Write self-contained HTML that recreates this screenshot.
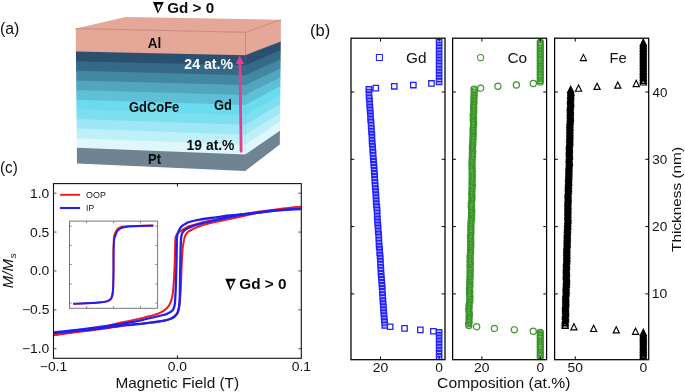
<!DOCTYPE html>
<html><head><meta charset="utf-8"><style>
html,body{margin:0;padding:0;background:#fff;}
svg{display:block;will-change:transform;font-family:"Liberation Sans",sans-serif;}
</style></head><body>
<svg width="685" height="392" viewBox="0 0 685 392">
<rect width="685" height="392" fill="#fff"/>
<polygon points="75.70,28.5 125.7,17.0 281.0,19.7 245.5,32.3" fill="#e5a898"/>
<polygon points="75.70,28.50 245.5,32.30 245.5,56.50 75.93,52.80" fill="#e5a898"/>
<polygon points="245.2,32.30 281.00,19.70 280.78,42.60 245.2,56.50" fill="#e5a898"/>
<polygon points="75.92,51.60 245.5,55.30 245.5,66.43 76.03,62.42" fill="#2b4f6f"/>
<polygon points="245.2,55.30 280.79,41.40 280.69,51.54 245.2,66.43" fill="#2b4f6f"/>
<polygon points="76.02,61.22 245.5,65.23 245.5,76.36 76.12,72.04" fill="#356a87"/>
<polygon points="245.2,65.23 280.71,50.34 280.61,60.48 245.2,76.36" fill="#356a87"/>
<polygon points="76.11,70.84 245.5,75.16 245.5,86.29 76.21,81.66" fill="#4288a2"/>
<polygon points="245.2,75.16 280.62,59.28 280.52,69.42 245.2,86.29" fill="#4288a2"/>
<polygon points="76.20,80.46 245.5,85.09 245.5,96.22 76.30,91.28" fill="#51a5bc"/>
<polygon points="245.2,85.09 280.53,68.22 280.44,78.36 245.2,96.22" fill="#51a5bc"/>
<polygon points="76.29,90.08 245.5,95.02 245.5,106.15 76.40,100.90" fill="#5ec0d6"/>
<polygon points="245.2,95.02 280.45,77.16 280.35,87.30 245.2,106.15" fill="#5ec0d6"/>
<polygon points="76.39,99.70 245.5,104.95 245.5,116.08 76.49,110.52" fill="#6bdcef"/>
<polygon points="245.2,104.95 280.36,86.10 280.26,96.24 245.2,116.08" fill="#6bdcef"/>
<polygon points="76.48,109.32 245.5,114.88 245.5,126.01 76.58,120.14" fill="#7ddeef"/>
<polygon points="245.2,114.88 280.28,95.04 280.18,105.18 245.2,126.01" fill="#7ddeef"/>
<polygon points="76.57,118.94 245.5,124.81 245.5,135.94 76.67,129.76" fill="#9de8f4"/>
<polygon points="245.2,124.81 280.19,103.98 280.09,114.12 245.2,135.94" fill="#9de8f4"/>
<polygon points="76.66,128.56 245.5,134.74 245.5,145.87 76.77,139.38" fill="#bff0f8"/>
<polygon points="245.2,134.74 280.10,112.92 280.01,123.06 245.2,145.87" fill="#bff0f8"/>
<polygon points="76.76,138.18 245.5,144.67 245.5,155.80 76.86,149.00" fill="#ddf7fb"/>
<polygon points="245.2,144.67 280.02,121.86 279.92,132.00 245.2,155.80" fill="#ddf7fb"/>
<polygon points="76.85,147.80 245.5,154.60 245.5,171.00 77.00,163.60" fill="#6f8393"/>
<polygon points="245.2,154.60 279.93,130.80 279.80,144.50 245.2,171.00" fill="#6f8393"/>
<path d="M75.70,28.5 L245.5,32.3 L281.0,19.7 M245.5,32.3 L245.5,55.3" fill="none" stroke="#a06c5e" stroke-width="0.7" opacity="0.8"/>
<path d="M245.5,55.3 L245.5,171.0" fill="none" stroke="#000" stroke-width="0.5" opacity="0.12"/>
<line x1="241.1" y1="151.3" x2="240.0" y2="62" stroke="#e43d93" stroke-width="2.8" stroke-linecap="round"/>
<polygon points="235.7,64.0 244.2,64.0 239.7,55.6" fill="#e43d93"/>
<path d="M153.0,1.9 L163.8,1.9 L157.9,13.6 Z M156.9,4.4 L158.2,10.9 L160.9,4.4 Z" fill="#000" fill-rule="evenodd"/>
<text x="167.29" y="12.80" font-size="15.40" font-weight="bold" font-style="normal" fill="#0a0a0a" textLength="46.85" lengthAdjust="spacingAndGlyphs">Gd &gt; 0</text>
<text x="147.66" y="47.80" font-size="14.20" font-weight="bold" font-style="normal" fill="#0a0a0a" textLength="13.48" lengthAdjust="spacingAndGlyphs">Al</text>
<text x="184.31" y="69.20" font-size="14.00" font-weight="bold" font-style="normal" fill="#ffffff" textLength="48.67" lengthAdjust="spacingAndGlyphs">24 at.%</text>
<text x="128.98" y="111.80" font-size="13.80" font-weight="bold" font-style="normal" fill="#0a0a0a" textLength="50.25" lengthAdjust="spacingAndGlyphs">GdCoFe</text>
<text x="213.88" y="109.60" font-size="13.80" font-weight="bold" font-style="normal" fill="#0a0a0a" textLength="17.97" lengthAdjust="spacingAndGlyphs">Gd</text>
<text x="186.63" y="149.70" font-size="13.80" font-weight="bold" font-style="normal" fill="#0a0a0a" textLength="47.83" lengthAdjust="spacingAndGlyphs">19 at.%</text>
<text x="148.03" y="163.80" font-size="14.10" font-weight="bold" font-style="normal" fill="#0a0a0a" textLength="12.93" lengthAdjust="spacingAndGlyphs">Pt</text>
<text x="-0.09" y="34.20" font-size="16.00" font-weight="normal" font-style="normal" fill="#111" textLength="19.44" lengthAdjust="spacingAndGlyphs">(a)</text>
<text x="309.97" y="35.80" font-size="16.30" font-weight="normal" font-style="normal" fill="#111" textLength="20.22" lengthAdjust="spacingAndGlyphs">(b)</text>
<text x="-0.05" y="172.60" font-size="16.50" font-weight="normal" font-style="normal" fill="#111" textLength="17.78" lengthAdjust="spacingAndGlyphs">(c)</text>
<rect x="53.5" y="183.6" width="247.8" height="174.70000000000002" fill="none" stroke="#111" stroke-width="1.1"/>
<line x1="53.5" y1="193.20" x2="56.5" y2="193.20" stroke="#444" stroke-width="0.9"/>
<line x1="301.3" y1="193.20" x2="298.3" y2="193.20" stroke="#444" stroke-width="0.9"/>
<line x1="53.5" y1="232.07" x2="56.5" y2="232.07" stroke="#444" stroke-width="0.9"/>
<line x1="301.3" y1="232.07" x2="298.3" y2="232.07" stroke="#444" stroke-width="0.9"/>
<line x1="53.5" y1="270.95" x2="56.5" y2="270.95" stroke="#444" stroke-width="0.9"/>
<line x1="301.3" y1="270.95" x2="298.3" y2="270.95" stroke="#444" stroke-width="0.9"/>
<line x1="53.5" y1="309.82" x2="56.5" y2="309.82" stroke="#444" stroke-width="0.9"/>
<line x1="301.3" y1="309.82" x2="298.3" y2="309.82" stroke="#444" stroke-width="0.9"/>
<line x1="53.5" y1="348.70" x2="56.5" y2="348.70" stroke="#444" stroke-width="0.9"/>
<line x1="301.3" y1="348.70" x2="298.3" y2="348.70" stroke="#444" stroke-width="0.9"/>
<line x1="177.40" y1="358.3" x2="177.40" y2="355.3" stroke="#111" stroke-width="1"/>
<line x1="177.40" y1="183.6" x2="177.40" y2="186.6" stroke="#111" stroke-width="1"/>
<text x="30.02" y="197.70" font-size="12.40" font-weight="normal" font-style="normal" fill="#111" textLength="19.31" lengthAdjust="spacingAndGlyphs">1.0</text>
<text x="30.05" y="236.57" font-size="12.40" font-weight="normal" font-style="normal" fill="#111" textLength="19.31" lengthAdjust="spacingAndGlyphs">0.5</text>
<text x="30.02" y="275.45" font-size="12.40" font-weight="normal" font-style="normal" fill="#111" textLength="19.31" lengthAdjust="spacingAndGlyphs">0.0</text>
<text x="21.96" y="314.32" font-size="12.40" font-weight="normal" font-style="normal" fill="#111" textLength="27.42" lengthAdjust="spacingAndGlyphs">−0.5</text>
<text x="21.93" y="353.20" font-size="12.40" font-weight="normal" font-style="normal" fill="#111" textLength="27.42" lengthAdjust="spacingAndGlyphs">−1.0</text>
<text x="39.79" y="371.00" font-size="12.40" font-weight="normal" font-style="normal" fill="#111" textLength="27.42" lengthAdjust="spacingAndGlyphs">−0.1</text>
<text x="167.73" y="371.00" font-size="12.40" font-weight="normal" font-style="normal" fill="#111" textLength="19.31" lengthAdjust="spacingAndGlyphs">0.0</text>
<text x="291.70" y="371.00" font-size="12.40" font-weight="normal" font-style="normal" fill="#111" textLength="19.31" lengthAdjust="spacingAndGlyphs">0.1</text>
<text x="115.43" y="387.70" font-size="14.50" font-weight="normal" font-style="normal" fill="#111" textLength="123.59" lengthAdjust="spacingAndGlyphs">Magnetic Field (T)</text>
<g transform="translate(13.4,287.7) rotate(-90)"><text x="-0.45" y="0.00" font-size="13.80" font-weight="normal" font-style="italic" fill="#111" textLength="29.17" lengthAdjust="spacingAndGlyphs">M/M</text><text x="29.17" y="2.50" font-size="9.50" font-weight="normal" font-style="italic" fill="#111" textLength="5.24" lengthAdjust="spacingAndGlyphs">s</text></g>
<clipPath id="cc"><rect x="54" y="184" width="247" height="174"/></clipPath>
<g clip-path="url(#cc)"><path d="M301.30,206.70 C297.75,207.08 286.88,208.18 280.00,209.00 C273.12,209.82 266.67,210.67 260.00,211.60 C253.33,212.53 245.83,213.58 240.00,214.60 C234.17,215.62 230.00,216.67 225.00,217.70 C220.00,218.73 214.50,219.82 210.00,220.80 C205.50,221.78 201.50,222.68 198.00,223.60 C194.50,224.52 191.33,225.42 189.00,226.30 C186.67,227.18 185.38,228.12 184.00,228.90 C182.62,229.68 181.73,230.28 180.70,231.00 C179.67,231.72 178.58,232.37 177.80,233.20 C177.02,234.03 176.42,234.87 176.00,236.00 C175.58,237.13 175.50,236.00 175.30,240.00 C175.10,244.00 175.02,253.67 174.80,260.00 C174.58,266.33 174.32,272.55 174.00,278.00 C173.68,283.45 173.42,288.75 172.90,292.70 C172.38,296.65 171.87,299.15 170.90,301.70 C169.93,304.25 169.02,306.10 167.10,308.00 C165.18,309.90 163.23,311.50 159.40,313.10 C155.57,314.70 149.83,316.15 144.10,317.60 C138.37,319.05 130.35,320.63 125.00,321.80 C119.65,322.97 116.17,323.63 112.00,324.60 C107.83,325.57 106.17,326.42 100.00,327.60 C93.83,328.78 82.67,330.48 75.00,331.70 C67.33,332.92 57.50,334.37 54.00,334.90" fill="none" stroke="#f01a1a" stroke-width="2.0" stroke-linejoin="round"/>
<path d="M54.00,335.20 C57.50,334.72 67.33,333.28 75.00,332.30 C82.67,331.32 91.67,330.42 100.00,329.30 C108.33,328.18 117.67,326.57 125.00,325.60 C132.33,324.63 137.67,324.30 144.00,323.50 C150.33,322.70 158.50,321.62 163.00,320.80 C167.50,319.98 168.92,319.43 171.00,318.60 C173.08,317.77 174.28,316.98 175.50,315.80 C176.72,314.62 177.62,313.38 178.30,311.50 C178.98,309.62 179.23,307.58 179.60,304.50 C179.97,301.42 180.25,297.08 180.50,293.00 C180.75,288.92 180.88,285.17 181.10,280.00 C181.32,274.83 181.53,267.33 181.80,262.00 C182.07,256.67 182.33,251.67 182.70,248.00 C183.07,244.33 183.55,242.13 184.00,240.00 C184.45,237.87 184.72,236.57 185.40,235.20 C186.08,233.83 186.93,232.78 188.10,231.80 C189.27,230.82 190.75,230.12 192.40,229.30 C194.05,228.48 196.12,227.63 198.00,226.90 C199.88,226.17 200.72,225.75 203.70,224.90 C206.68,224.05 211.52,222.80 215.90,221.80 C220.28,220.80 225.98,219.73 230.00,218.90 C234.02,218.07 235.00,217.87 240.00,216.80 C245.00,215.73 253.33,213.72 260.00,212.50 C266.67,211.28 273.12,210.47 280.00,209.50 C286.88,208.53 297.75,207.17 301.30,206.70" fill="none" stroke="#f01a1a" stroke-width="2.0" stroke-linejoin="round"/>
<path d="M301.30,208.80 C296.37,209.13 280.52,209.98 271.70,210.80 C262.88,211.62 255.35,212.93 248.40,213.70 C241.45,214.47 234.57,214.92 230.00,215.40 C225.43,215.88 224.20,216.17 221.00,216.60 C217.80,217.03 214.20,217.52 210.80,218.00 C207.40,218.48 203.23,219.08 200.60,219.50 C197.97,219.92 196.88,220.08 195.00,220.50 C193.12,220.92 190.80,221.52 189.30,222.00 C187.80,222.48 187.02,222.88 186.00,223.40 C184.98,223.92 184.03,224.48 183.20,225.10 C182.37,225.72 181.63,226.37 181.00,227.10 C180.37,227.83 179.87,228.65 179.40,229.50 C178.93,230.35 178.53,231.35 178.20,232.20 C177.87,233.05 177.62,233.55 177.40,234.60 C177.18,235.65 177.02,235.93 176.90,238.50 C176.78,241.07 176.80,244.75 176.70,250.00 C176.60,255.25 176.45,263.83 176.30,270.00 C176.15,276.17 175.97,282.50 175.80,287.00 C175.63,291.50 175.50,293.92 175.30,297.00 C175.10,300.08 175.07,303.25 174.60,305.50 C174.13,307.75 173.60,309.20 172.50,310.50 C171.40,311.80 169.55,312.55 168.00,313.30 C166.45,314.05 167.18,313.97 163.20,315.00 C159.22,316.03 150.47,318.12 144.10,319.50 C137.73,320.88 132.35,322.05 125.00,323.30 C117.65,324.55 108.33,325.85 100.00,327.00 C91.67,328.15 82.67,329.30 75.00,330.20 C67.33,331.10 57.50,332.03 54.00,332.40" fill="none" stroke="#1f1ff0" stroke-width="2.3" stroke-linejoin="round"/>
<path d="M54.00,333.20 C57.50,332.83 67.33,331.78 75.00,331.00 C82.67,330.22 91.67,329.47 100.00,328.50 C108.33,327.53 117.65,326.07 125.00,325.20 C132.35,324.33 137.73,324.03 144.10,323.30 C150.47,322.57 158.88,321.52 163.20,320.80 C167.52,320.08 168.12,319.72 170.00,319.00 C171.88,318.28 173.23,317.58 174.50,316.50 C175.77,315.42 176.83,314.25 177.60,312.50 C178.37,310.75 178.73,308.75 179.10,306.00 C179.47,303.25 179.62,302.00 179.80,296.00 C179.98,290.00 180.07,277.67 180.20,270.00 C180.33,262.33 180.47,255.17 180.60,250.00 C180.73,244.83 180.78,241.67 181.00,239.00 C181.22,236.33 181.52,235.23 181.90,234.00 C182.28,232.77 182.78,232.28 183.30,231.60 C183.82,230.92 184.00,230.58 185.00,229.90 C186.00,229.22 187.13,228.42 189.30,227.50 C191.47,226.58 195.27,225.23 198.00,224.40 C200.73,223.57 202.72,223.23 205.70,222.50 C208.68,221.77 211.85,220.92 215.90,220.00 C219.95,219.08 224.58,218.02 230.00,217.00 C235.42,215.98 241.45,214.90 248.40,213.90 C255.35,212.90 262.88,211.85 271.70,211.00 C280.52,210.15 296.37,209.17 301.30,208.80" fill="none" stroke="#1f1ff0" stroke-width="2.3" stroke-linejoin="round"/></g>
<line x1="60.1" y1="194.8" x2="80.1" y2="194.8" stroke="#f01a1a" stroke-width="1.9"/>
<line x1="60.1" y1="208.0" x2="80.1" y2="208.0" stroke="#1f1ff0" stroke-width="2.1"/>
<text x="86.08" y="198.20" font-size="9.30" font-weight="normal" font-style="normal" fill="#111" textLength="19.79" lengthAdjust="spacingAndGlyphs">OOP</text>
<text x="86.11" y="211.20" font-size="9.30" font-weight="normal" font-style="normal" fill="#111" textLength="8.03" lengthAdjust="spacingAndGlyphs">IP</text>
<path d="M225.3,278.8 L235.9,278.8 L230.2,290.6 Z M229.1,281.2 L230.6,287.4 L233.3,281.2 Z" fill="#000" fill-rule="evenodd"/>
<text x="239.29" y="289.30" font-size="15.40" font-weight="bold" font-style="normal" fill="#0a0a0a" textLength="47.36" lengthAdjust="spacingAndGlyphs">Gd &gt; 0</text>
<rect x="69.5" y="221.1" width="88.1" height="87.20000000000002" fill="#fff" stroke="#777" stroke-width="1"/>
<line x1="86.6" y1="221.1" x2="86.6" y2="223.29999999999998" stroke="#777" stroke-width="0.9"/>
<line x1="86.6" y1="308.3" x2="86.6" y2="306.1" stroke="#777" stroke-width="0.9"/>
<line x1="113.6" y1="221.1" x2="113.6" y2="223.29999999999998" stroke="#777" stroke-width="0.9"/>
<line x1="113.6" y1="308.3" x2="113.6" y2="306.1" stroke="#777" stroke-width="0.9"/>
<line x1="140.4" y1="221.1" x2="140.4" y2="223.29999999999998" stroke="#777" stroke-width="0.9"/>
<line x1="140.4" y1="308.3" x2="140.4" y2="306.1" stroke="#777" stroke-width="0.9"/>
<line x1="69.5" y1="226.2" x2="71.7" y2="226.2" stroke="#777" stroke-width="0.9"/>
<line x1="157.6" y1="226.2" x2="155.4" y2="226.2" stroke="#777" stroke-width="0.9"/>
<line x1="69.5" y1="245.4" x2="71.7" y2="245.4" stroke="#777" stroke-width="0.9"/>
<line x1="157.6" y1="245.4" x2="155.4" y2="245.4" stroke="#777" stroke-width="0.9"/>
<line x1="69.5" y1="264.5" x2="71.7" y2="264.5" stroke="#777" stroke-width="0.9"/>
<line x1="157.6" y1="264.5" x2="155.4" y2="264.5" stroke="#777" stroke-width="0.9"/>
<line x1="69.5" y1="283.9" x2="71.7" y2="283.9" stroke="#777" stroke-width="0.9"/>
<line x1="157.6" y1="283.9" x2="155.4" y2="283.9" stroke="#777" stroke-width="0.9"/>
<line x1="69.5" y1="303.0" x2="71.7" y2="303.0" stroke="#777" stroke-width="0.9"/>
<line x1="157.6" y1="303.0" x2="155.4" y2="303.0" stroke="#777" stroke-width="0.9"/>
<path d="M73.30,303.90 C75.25,303.82 80.85,303.62 85.00,303.40 C89.15,303.18 94.62,302.95 98.20,302.60 C101.78,302.25 104.40,301.85 106.50,301.30 C108.60,300.75 109.78,300.35 110.80,299.30 C111.82,298.25 112.18,297.38 112.60,295.00 C113.02,292.62 113.15,289.17 113.30,285.00 C113.45,280.83 113.47,275.83 113.50,270.00 C113.53,264.17 113.43,255.33 113.50,250.00 C113.57,244.67 113.65,240.75 113.90,238.00 C114.15,235.25 114.48,234.92 115.00,233.50 C115.52,232.08 116.17,230.53 117.00,229.50 C117.83,228.47 118.67,227.80 120.00,227.30 C121.33,226.80 122.50,226.73 125.00,226.50 C127.50,226.27 130.27,226.08 135.00,225.90 C139.73,225.72 150.33,225.48 153.40,225.40" fill="none" stroke="#f01a1a" stroke-width="1.9"/>
<path d="M73.30,303.70 C75.25,303.63 80.85,303.50 85.00,303.30 C89.15,303.10 94.72,302.78 98.20,302.50 C101.68,302.22 103.97,302.05 105.90,301.60 C107.83,301.15 108.78,300.73 109.80,299.80 C110.82,298.87 111.45,297.97 112.00,296.00 C112.55,294.03 112.85,292.33 113.10,288.00 C113.35,283.67 113.42,276.33 113.50,270.00 C113.58,263.67 113.48,255.00 113.60,250.00 C113.72,245.00 113.92,242.33 114.20,240.00 C114.48,237.67 114.75,237.50 115.30,236.00 C115.85,234.50 116.55,232.30 117.50,231.00 C118.45,229.70 119.75,228.87 121.00,228.20 C122.25,227.53 122.67,227.33 125.00,227.00 C127.33,226.67 130.27,226.42 135.00,226.20 C139.73,225.98 150.33,225.78 153.40,225.70" fill="none" stroke="#1f1ff0" stroke-width="1.9"/>
<clipPath id="pc0"><rect x="351.0" y="38.2" width="94.0" height="321.5"/></clipPath>
<clipPath id="pc1"><rect x="452.6" y="38.2" width="94.0" height="321.5"/></clipPath>
<clipPath id="pc2"><rect x="554.6" y="38.2" width="94.10000000000002" height="321.5"/></clipPath>
<g clip-path="url(#pc0)"><path d="M436.40,354.33h5.40v5.40h-5.40ZM436.40,351.25h5.40v5.40h-5.40ZM436.40,348.17h5.40v5.40h-5.40ZM436.40,345.09h5.40v5.40h-5.40ZM436.40,342.01h5.40v5.40h-5.40ZM436.40,338.93h5.40v5.40h-5.40ZM436.40,335.85h5.40v5.40h-5.40ZM436.40,332.77h5.40v5.40h-5.40ZM436.40,329.70h5.40v5.40h-5.40ZM382.03,322.70h5.40v5.40h-5.40ZM381.91,319.67h5.40v5.40h-5.40ZM381.65,316.64h5.40v5.40h-5.40ZM381.38,313.62h5.40v5.40h-5.40ZM381.13,310.59h5.40v5.40h-5.40ZM380.86,307.56h5.40v5.40h-5.40ZM380.71,304.54h5.40v5.40h-5.40ZM380.53,301.51h5.40v5.40h-5.40ZM380.24,298.48h5.40v5.40h-5.40ZM380.03,295.46h5.40v5.40h-5.40ZM379.97,292.43h5.40v5.40h-5.40ZM379.61,289.40h5.40v5.40h-5.40ZM379.64,286.38h5.40v5.40h-5.40ZM379.34,283.35h5.40v5.40h-5.40ZM379.12,280.32h5.40v5.40h-5.40ZM378.89,277.29h5.40v5.40h-5.40ZM378.65,274.27h5.40v5.40h-5.40ZM378.36,271.24h5.40v5.40h-5.40ZM378.19,268.21h5.40v5.40h-5.40ZM378.07,265.19h5.40v5.40h-5.40ZM377.79,262.16h5.40v5.40h-5.40ZM377.81,259.13h5.40v5.40h-5.40ZM377.60,256.11h5.40v5.40h-5.40ZM377.37,253.08h5.40v5.40h-5.40ZM376.96,250.05h5.40v5.40h-5.40ZM377.00,247.03h5.40v5.40h-5.40ZM376.55,244.00h5.40v5.40h-5.40ZM376.31,240.97h5.40v5.40h-5.40ZM376.22,237.95h5.40v5.40h-5.40ZM376.07,234.92h5.40v5.40h-5.40ZM375.97,231.89h5.40v5.40h-5.40ZM375.50,228.87h5.40v5.40h-5.40ZM375.44,225.84h5.40v5.40h-5.40ZM375.19,222.81h5.40v5.40h-5.40ZM374.89,219.79h5.40v5.40h-5.40ZM374.75,216.76h5.40v5.40h-5.40ZM374.47,213.73h5.40v5.40h-5.40ZM374.54,210.71h5.40v5.40h-5.40ZM374.34,207.68h5.40v5.40h-5.40ZM374.12,204.65h5.40v5.40h-5.40ZM373.73,201.63h5.40v5.40h-5.40ZM373.51,198.60h5.40v5.40h-5.40ZM373.32,195.57h5.40v5.40h-5.40ZM373.18,192.55h5.40v5.40h-5.40ZM373.01,189.52h5.40v5.40h-5.40ZM372.73,186.49h5.40v5.40h-5.40ZM372.48,183.46h5.40v5.40h-5.40ZM372.28,180.44h5.40v5.40h-5.40ZM372.06,177.41h5.40v5.40h-5.40ZM371.96,174.38h5.40v5.40h-5.40ZM371.79,171.36h5.40v5.40h-5.40ZM371.55,168.33h5.40v5.40h-5.40ZM371.37,165.30h5.40v5.40h-5.40ZM371.13,162.28h5.40v5.40h-5.40ZM370.91,159.25h5.40v5.40h-5.40ZM370.61,156.22h5.40v5.40h-5.40ZM370.41,153.20h5.40v5.40h-5.40ZM370.34,150.17h5.40v5.40h-5.40ZM370.01,147.14h5.40v5.40h-5.40ZM369.91,144.12h5.40v5.40h-5.40ZM369.56,141.09h5.40v5.40h-5.40ZM369.35,138.06h5.40v5.40h-5.40ZM369.29,135.04h5.40v5.40h-5.40ZM369.15,132.01h5.40v5.40h-5.40ZM368.82,128.98h5.40v5.40h-5.40ZM368.70,125.96h5.40v5.40h-5.40ZM368.43,122.93h5.40v5.40h-5.40ZM368.38,119.90h5.40v5.40h-5.40ZM367.92,116.88h5.40v5.40h-5.40ZM367.82,113.85h5.40v5.40h-5.40ZM367.73,110.82h5.40v5.40h-5.40ZM367.42,107.80h5.40v5.40h-5.40ZM367.19,104.77h5.40v5.40h-5.40ZM366.91,101.74h5.40v5.40h-5.40ZM366.86,98.72h5.40v5.40h-5.40ZM366.51,95.69h5.40v5.40h-5.40ZM366.28,92.66h5.40v5.40h-5.40ZM366.34,89.63h5.40v5.40h-5.40ZM366.12,86.61h5.40v5.40h-5.40ZM436.40,79.20h5.40v5.40h-5.40ZM436.40,76.16h5.40v5.40h-5.40ZM436.40,73.11h5.40v5.40h-5.40ZM436.40,70.06h5.40v5.40h-5.40ZM436.40,67.01h5.40v5.40h-5.40ZM436.40,63.96h5.40v5.40h-5.40ZM436.40,60.91h5.40v5.40h-5.40ZM436.40,57.86h5.40v5.40h-5.40ZM436.40,54.81h5.40v5.40h-5.40ZM436.40,51.76h5.40v5.40h-5.40ZM436.40,48.71h5.40v5.40h-5.40ZM436.40,45.66h5.40v5.40h-5.40ZM436.40,42.61h5.40v5.40h-5.40ZM436.40,39.57h5.40v5.40h-5.40Z" fill="#2222ff" fill-opacity="0.36" stroke="none"/><path d="M436.40,354.33h5.40v5.40h-5.40ZM436.40,351.25h5.40v5.40h-5.40ZM436.40,348.17h5.40v5.40h-5.40ZM436.40,345.09h5.40v5.40h-5.40ZM436.40,342.01h5.40v5.40h-5.40ZM436.40,338.93h5.40v5.40h-5.40ZM436.40,335.85h5.40v5.40h-5.40ZM436.40,332.77h5.40v5.40h-5.40ZM436.40,329.70h5.40v5.40h-5.40ZM430.69,328.55h5.40v5.40h-5.40ZM417.65,327.14h5.40v5.40h-5.40ZM401.83,325.72h5.40v5.40h-5.40ZM387.47,324.04h5.40v5.40h-5.40ZM382.03,322.70h5.40v5.40h-5.40ZM381.91,319.67h5.40v5.40h-5.40ZM381.65,316.64h5.40v5.40h-5.40ZM381.38,313.62h5.40v5.40h-5.40ZM381.13,310.59h5.40v5.40h-5.40ZM380.86,307.56h5.40v5.40h-5.40ZM380.71,304.54h5.40v5.40h-5.40ZM380.53,301.51h5.40v5.40h-5.40ZM380.24,298.48h5.40v5.40h-5.40ZM380.03,295.46h5.40v5.40h-5.40ZM379.97,292.43h5.40v5.40h-5.40ZM379.61,289.40h5.40v5.40h-5.40ZM379.64,286.38h5.40v5.40h-5.40ZM379.34,283.35h5.40v5.40h-5.40ZM379.12,280.32h5.40v5.40h-5.40ZM378.89,277.29h5.40v5.40h-5.40ZM378.65,274.27h5.40v5.40h-5.40ZM378.36,271.24h5.40v5.40h-5.40ZM378.19,268.21h5.40v5.40h-5.40ZM378.07,265.19h5.40v5.40h-5.40ZM377.79,262.16h5.40v5.40h-5.40ZM377.81,259.13h5.40v5.40h-5.40ZM377.60,256.11h5.40v5.40h-5.40ZM377.37,253.08h5.40v5.40h-5.40ZM376.96,250.05h5.40v5.40h-5.40ZM377.00,247.03h5.40v5.40h-5.40ZM376.55,244.00h5.40v5.40h-5.40ZM376.31,240.97h5.40v5.40h-5.40ZM376.22,237.95h5.40v5.40h-5.40ZM376.07,234.92h5.40v5.40h-5.40ZM375.97,231.89h5.40v5.40h-5.40ZM375.50,228.87h5.40v5.40h-5.40ZM375.44,225.84h5.40v5.40h-5.40ZM375.19,222.81h5.40v5.40h-5.40ZM374.89,219.79h5.40v5.40h-5.40ZM374.75,216.76h5.40v5.40h-5.40ZM374.47,213.73h5.40v5.40h-5.40ZM374.54,210.71h5.40v5.40h-5.40ZM374.34,207.68h5.40v5.40h-5.40ZM374.12,204.65h5.40v5.40h-5.40ZM373.73,201.63h5.40v5.40h-5.40ZM373.51,198.60h5.40v5.40h-5.40ZM373.32,195.57h5.40v5.40h-5.40ZM373.18,192.55h5.40v5.40h-5.40ZM373.01,189.52h5.40v5.40h-5.40ZM372.73,186.49h5.40v5.40h-5.40ZM372.48,183.46h5.40v5.40h-5.40ZM372.28,180.44h5.40v5.40h-5.40ZM372.06,177.41h5.40v5.40h-5.40ZM371.96,174.38h5.40v5.40h-5.40ZM371.79,171.36h5.40v5.40h-5.40ZM371.55,168.33h5.40v5.40h-5.40ZM371.37,165.30h5.40v5.40h-5.40ZM371.13,162.28h5.40v5.40h-5.40ZM370.91,159.25h5.40v5.40h-5.40ZM370.61,156.22h5.40v5.40h-5.40ZM370.41,153.20h5.40v5.40h-5.40ZM370.34,150.17h5.40v5.40h-5.40ZM370.01,147.14h5.40v5.40h-5.40ZM369.91,144.12h5.40v5.40h-5.40ZM369.56,141.09h5.40v5.40h-5.40ZM369.35,138.06h5.40v5.40h-5.40ZM369.29,135.04h5.40v5.40h-5.40ZM369.15,132.01h5.40v5.40h-5.40ZM368.82,128.98h5.40v5.40h-5.40ZM368.70,125.96h5.40v5.40h-5.40ZM368.43,122.93h5.40v5.40h-5.40ZM368.38,119.90h5.40v5.40h-5.40ZM367.92,116.88h5.40v5.40h-5.40ZM367.82,113.85h5.40v5.40h-5.40ZM367.73,110.82h5.40v5.40h-5.40ZM367.42,107.80h5.40v5.40h-5.40ZM367.19,104.77h5.40v5.40h-5.40ZM366.91,101.74h5.40v5.40h-5.40ZM366.86,98.72h5.40v5.40h-5.40ZM366.51,95.69h5.40v5.40h-5.40ZM366.28,92.66h5.40v5.40h-5.40ZM366.34,89.63h5.40v5.40h-5.40ZM366.12,86.61h5.40v5.40h-5.40ZM373.11,85.46h5.40v5.40h-5.40ZM391.57,83.58h5.40v5.40h-5.40ZM410.62,82.37h5.40v5.40h-5.40ZM428.78,80.75h5.40v5.40h-5.40ZM436.40,79.20h5.40v5.40h-5.40ZM436.40,76.16h5.40v5.40h-5.40ZM436.40,73.11h5.40v5.40h-5.40ZM436.40,70.06h5.40v5.40h-5.40ZM436.40,67.01h5.40v5.40h-5.40ZM436.40,63.96h5.40v5.40h-5.40ZM436.40,60.91h5.40v5.40h-5.40ZM436.40,57.86h5.40v5.40h-5.40ZM436.40,54.81h5.40v5.40h-5.40ZM436.40,51.76h5.40v5.40h-5.40ZM436.40,48.71h5.40v5.40h-5.40ZM436.40,45.66h5.40v5.40h-5.40ZM436.40,42.61h5.40v5.40h-5.40ZM436.40,39.57h5.40v5.40h-5.40Z" fill="none" stroke="#2222ff" stroke-width="1.3"/></g>
<g clip-path="url(#pc1)"><path d="M537.20,357.03a3.1,3.1 0 1,0 6.20,0a3.1,3.1 0 1,0 -6.20,0ZM537.20,355.49a3.1,3.1 0 1,0 6.20,0a3.1,3.1 0 1,0 -6.20,0ZM537.20,353.95a3.1,3.1 0 1,0 6.20,0a3.1,3.1 0 1,0 -6.20,0ZM537.20,352.41a3.1,3.1 0 1,0 6.20,0a3.1,3.1 0 1,0 -6.20,0ZM537.20,350.87a3.1,3.1 0 1,0 6.20,0a3.1,3.1 0 1,0 -6.20,0ZM537.20,349.33a3.1,3.1 0 1,0 6.20,0a3.1,3.1 0 1,0 -6.20,0ZM537.20,347.79a3.1,3.1 0 1,0 6.20,0a3.1,3.1 0 1,0 -6.20,0ZM537.20,346.25a3.1,3.1 0 1,0 6.20,0a3.1,3.1 0 1,0 -6.20,0ZM537.20,344.71a3.1,3.1 0 1,0 6.20,0a3.1,3.1 0 1,0 -6.20,0ZM537.20,343.17a3.1,3.1 0 1,0 6.20,0a3.1,3.1 0 1,0 -6.20,0ZM537.20,341.63a3.1,3.1 0 1,0 6.20,0a3.1,3.1 0 1,0 -6.20,0ZM537.20,340.09a3.1,3.1 0 1,0 6.20,0a3.1,3.1 0 1,0 -6.20,0ZM537.20,338.55a3.1,3.1 0 1,0 6.20,0a3.1,3.1 0 1,0 -6.20,0ZM537.20,337.01a3.1,3.1 0 1,0 6.20,0a3.1,3.1 0 1,0 -6.20,0ZM537.20,335.47a3.1,3.1 0 1,0 6.20,0a3.1,3.1 0 1,0 -6.20,0ZM537.20,333.94a3.1,3.1 0 1,0 6.20,0a3.1,3.1 0 1,0 -6.20,0ZM537.20,332.40a3.1,3.1 0 1,0 6.20,0a3.1,3.1 0 1,0 -6.20,0ZM530.10,331.25a3.1,3.1 0 1,0 6.20,0a3.1,3.1 0 1,0 -6.20,0ZM511.21,329.84a3.1,3.1 0 1,0 6.20,0a3.1,3.1 0 1,0 -6.20,0ZM491.36,328.42a3.1,3.1 0 1,0 6.20,0a3.1,3.1 0 1,0 -6.20,0ZM473.54,326.74a3.1,3.1 0 1,0 6.20,0a3.1,3.1 0 1,0 -6.20,0ZM465.74,325.40a3.1,3.1 0 1,0 6.20,0a3.1,3.1 0 1,0 -6.20,0ZM465.57,323.87a3.1,3.1 0 1,0 6.20,0a3.1,3.1 0 1,0 -6.20,0ZM465.96,322.35a3.1,3.1 0 1,0 6.20,0a3.1,3.1 0 1,0 -6.20,0ZM465.88,320.83a3.1,3.1 0 1,0 6.20,0a3.1,3.1 0 1,0 -6.20,0ZM465.94,319.30a3.1,3.1 0 1,0 6.20,0a3.1,3.1 0 1,0 -6.20,0ZM465.93,317.78a3.1,3.1 0 1,0 6.20,0a3.1,3.1 0 1,0 -6.20,0ZM466.10,316.26a3.1,3.1 0 1,0 6.20,0a3.1,3.1 0 1,0 -6.20,0ZM466.27,314.73a3.1,3.1 0 1,0 6.20,0a3.1,3.1 0 1,0 -6.20,0ZM466.15,313.21a3.1,3.1 0 1,0 6.20,0a3.1,3.1 0 1,0 -6.20,0ZM465.95,311.69a3.1,3.1 0 1,0 6.20,0a3.1,3.1 0 1,0 -6.20,0ZM465.79,310.16a3.1,3.1 0 1,0 6.20,0a3.1,3.1 0 1,0 -6.20,0ZM465.72,308.64a3.1,3.1 0 1,0 6.20,0a3.1,3.1 0 1,0 -6.20,0ZM466.09,307.12a3.1,3.1 0 1,0 6.20,0a3.1,3.1 0 1,0 -6.20,0ZM465.92,305.60a3.1,3.1 0 1,0 6.20,0a3.1,3.1 0 1,0 -6.20,0ZM466.15,304.07a3.1,3.1 0 1,0 6.20,0a3.1,3.1 0 1,0 -6.20,0ZM466.46,302.55a3.1,3.1 0 1,0 6.20,0a3.1,3.1 0 1,0 -6.20,0ZM466.69,301.03a3.1,3.1 0 1,0 6.20,0a3.1,3.1 0 1,0 -6.20,0ZM466.68,299.50a3.1,3.1 0 1,0 6.20,0a3.1,3.1 0 1,0 -6.20,0ZM466.68,297.98a3.1,3.1 0 1,0 6.20,0a3.1,3.1 0 1,0 -6.20,0ZM466.84,296.46a3.1,3.1 0 1,0 6.20,0a3.1,3.1 0 1,0 -6.20,0ZM466.58,294.93a3.1,3.1 0 1,0 6.20,0a3.1,3.1 0 1,0 -6.20,0ZM466.41,293.41a3.1,3.1 0 1,0 6.20,0a3.1,3.1 0 1,0 -6.20,0ZM466.74,291.89a3.1,3.1 0 1,0 6.20,0a3.1,3.1 0 1,0 -6.20,0ZM466.45,290.36a3.1,3.1 0 1,0 6.20,0a3.1,3.1 0 1,0 -6.20,0ZM466.30,288.84a3.1,3.1 0 1,0 6.20,0a3.1,3.1 0 1,0 -6.20,0ZM466.53,287.32a3.1,3.1 0 1,0 6.20,0a3.1,3.1 0 1,0 -6.20,0ZM466.81,285.79a3.1,3.1 0 1,0 6.20,0a3.1,3.1 0 1,0 -6.20,0ZM466.59,284.27a3.1,3.1 0 1,0 6.20,0a3.1,3.1 0 1,0 -6.20,0ZM466.88,282.75a3.1,3.1 0 1,0 6.20,0a3.1,3.1 0 1,0 -6.20,0ZM466.63,281.23a3.1,3.1 0 1,0 6.20,0a3.1,3.1 0 1,0 -6.20,0ZM466.69,279.70a3.1,3.1 0 1,0 6.20,0a3.1,3.1 0 1,0 -6.20,0ZM466.94,278.18a3.1,3.1 0 1,0 6.20,0a3.1,3.1 0 1,0 -6.20,0ZM466.83,276.66a3.1,3.1 0 1,0 6.20,0a3.1,3.1 0 1,0 -6.20,0ZM467.11,275.13a3.1,3.1 0 1,0 6.20,0a3.1,3.1 0 1,0 -6.20,0ZM467.11,273.61a3.1,3.1 0 1,0 6.20,0a3.1,3.1 0 1,0 -6.20,0ZM466.90,272.09a3.1,3.1 0 1,0 6.20,0a3.1,3.1 0 1,0 -6.20,0ZM467.19,270.56a3.1,3.1 0 1,0 6.20,0a3.1,3.1 0 1,0 -6.20,0ZM467.15,269.04a3.1,3.1 0 1,0 6.20,0a3.1,3.1 0 1,0 -6.20,0ZM467.01,267.52a3.1,3.1 0 1,0 6.20,0a3.1,3.1 0 1,0 -6.20,0ZM466.91,265.99a3.1,3.1 0 1,0 6.20,0a3.1,3.1 0 1,0 -6.20,0ZM467.20,264.47a3.1,3.1 0 1,0 6.20,0a3.1,3.1 0 1,0 -6.20,0ZM467.23,262.95a3.1,3.1 0 1,0 6.20,0a3.1,3.1 0 1,0 -6.20,0ZM466.98,261.42a3.1,3.1 0 1,0 6.20,0a3.1,3.1 0 1,0 -6.20,0ZM466.98,259.90a3.1,3.1 0 1,0 6.20,0a3.1,3.1 0 1,0 -6.20,0ZM467.16,258.38a3.1,3.1 0 1,0 6.20,0a3.1,3.1 0 1,0 -6.20,0ZM466.97,256.85a3.1,3.1 0 1,0 6.20,0a3.1,3.1 0 1,0 -6.20,0ZM467.13,255.33a3.1,3.1 0 1,0 6.20,0a3.1,3.1 0 1,0 -6.20,0ZM467.36,253.81a3.1,3.1 0 1,0 6.20,0a3.1,3.1 0 1,0 -6.20,0ZM467.47,252.29a3.1,3.1 0 1,0 6.20,0a3.1,3.1 0 1,0 -6.20,0ZM467.37,250.76a3.1,3.1 0 1,0 6.20,0a3.1,3.1 0 1,0 -6.20,0ZM467.49,249.24a3.1,3.1 0 1,0 6.20,0a3.1,3.1 0 1,0 -6.20,0ZM467.52,247.72a3.1,3.1 0 1,0 6.20,0a3.1,3.1 0 1,0 -6.20,0ZM467.65,246.19a3.1,3.1 0 1,0 6.20,0a3.1,3.1 0 1,0 -6.20,0ZM467.59,244.67a3.1,3.1 0 1,0 6.20,0a3.1,3.1 0 1,0 -6.20,0ZM467.74,243.15a3.1,3.1 0 1,0 6.20,0a3.1,3.1 0 1,0 -6.20,0ZM467.54,241.62a3.1,3.1 0 1,0 6.20,0a3.1,3.1 0 1,0 -6.20,0ZM467.69,240.10a3.1,3.1 0 1,0 6.20,0a3.1,3.1 0 1,0 -6.20,0ZM467.53,238.58a3.1,3.1 0 1,0 6.20,0a3.1,3.1 0 1,0 -6.20,0ZM467.43,237.05a3.1,3.1 0 1,0 6.20,0a3.1,3.1 0 1,0 -6.20,0ZM467.34,235.53a3.1,3.1 0 1,0 6.20,0a3.1,3.1 0 1,0 -6.20,0ZM467.71,234.01a3.1,3.1 0 1,0 6.20,0a3.1,3.1 0 1,0 -6.20,0ZM467.79,232.48a3.1,3.1 0 1,0 6.20,0a3.1,3.1 0 1,0 -6.20,0ZM467.71,230.96a3.1,3.1 0 1,0 6.20,0a3.1,3.1 0 1,0 -6.20,0ZM467.76,229.44a3.1,3.1 0 1,0 6.20,0a3.1,3.1 0 1,0 -6.20,0ZM467.78,227.91a3.1,3.1 0 1,0 6.20,0a3.1,3.1 0 1,0 -6.20,0ZM467.75,226.39a3.1,3.1 0 1,0 6.20,0a3.1,3.1 0 1,0 -6.20,0ZM467.89,224.87a3.1,3.1 0 1,0 6.20,0a3.1,3.1 0 1,0 -6.20,0ZM467.86,223.35a3.1,3.1 0 1,0 6.20,0a3.1,3.1 0 1,0 -6.20,0ZM467.97,221.82a3.1,3.1 0 1,0 6.20,0a3.1,3.1 0 1,0 -6.20,0ZM468.23,220.30a3.1,3.1 0 1,0 6.20,0a3.1,3.1 0 1,0 -6.20,0ZM468.36,218.78a3.1,3.1 0 1,0 6.20,0a3.1,3.1 0 1,0 -6.20,0ZM468.36,217.25a3.1,3.1 0 1,0 6.20,0a3.1,3.1 0 1,0 -6.20,0ZM468.45,215.73a3.1,3.1 0 1,0 6.20,0a3.1,3.1 0 1,0 -6.20,0ZM468.42,214.21a3.1,3.1 0 1,0 6.20,0a3.1,3.1 0 1,0 -6.20,0ZM468.57,212.68a3.1,3.1 0 1,0 6.20,0a3.1,3.1 0 1,0 -6.20,0ZM468.72,211.16a3.1,3.1 0 1,0 6.20,0a3.1,3.1 0 1,0 -6.20,0ZM468.55,209.64a3.1,3.1 0 1,0 6.20,0a3.1,3.1 0 1,0 -6.20,0ZM468.25,208.11a3.1,3.1 0 1,0 6.20,0a3.1,3.1 0 1,0 -6.20,0ZM468.16,206.59a3.1,3.1 0 1,0 6.20,0a3.1,3.1 0 1,0 -6.20,0ZM468.47,205.07a3.1,3.1 0 1,0 6.20,0a3.1,3.1 0 1,0 -6.20,0ZM468.24,203.54a3.1,3.1 0 1,0 6.20,0a3.1,3.1 0 1,0 -6.20,0ZM468.43,202.02a3.1,3.1 0 1,0 6.20,0a3.1,3.1 0 1,0 -6.20,0ZM468.69,200.50a3.1,3.1 0 1,0 6.20,0a3.1,3.1 0 1,0 -6.20,0ZM468.84,198.97a3.1,3.1 0 1,0 6.20,0a3.1,3.1 0 1,0 -6.20,0ZM468.82,197.45a3.1,3.1 0 1,0 6.20,0a3.1,3.1 0 1,0 -6.20,0ZM468.86,195.93a3.1,3.1 0 1,0 6.20,0a3.1,3.1 0 1,0 -6.20,0ZM468.55,194.41a3.1,3.1 0 1,0 6.20,0a3.1,3.1 0 1,0 -6.20,0ZM468.75,192.88a3.1,3.1 0 1,0 6.20,0a3.1,3.1 0 1,0 -6.20,0ZM468.80,191.36a3.1,3.1 0 1,0 6.20,0a3.1,3.1 0 1,0 -6.20,0ZM468.80,189.84a3.1,3.1 0 1,0 6.20,0a3.1,3.1 0 1,0 -6.20,0ZM469.01,188.31a3.1,3.1 0 1,0 6.20,0a3.1,3.1 0 1,0 -6.20,0ZM469.05,186.79a3.1,3.1 0 1,0 6.20,0a3.1,3.1 0 1,0 -6.20,0ZM469.24,185.27a3.1,3.1 0 1,0 6.20,0a3.1,3.1 0 1,0 -6.20,0ZM468.89,183.74a3.1,3.1 0 1,0 6.20,0a3.1,3.1 0 1,0 -6.20,0ZM469.04,182.22a3.1,3.1 0 1,0 6.20,0a3.1,3.1 0 1,0 -6.20,0ZM469.13,180.70a3.1,3.1 0 1,0 6.20,0a3.1,3.1 0 1,0 -6.20,0ZM469.01,179.17a3.1,3.1 0 1,0 6.20,0a3.1,3.1 0 1,0 -6.20,0ZM469.23,177.65a3.1,3.1 0 1,0 6.20,0a3.1,3.1 0 1,0 -6.20,0ZM469.15,176.13a3.1,3.1 0 1,0 6.20,0a3.1,3.1 0 1,0 -6.20,0ZM469.12,174.60a3.1,3.1 0 1,0 6.20,0a3.1,3.1 0 1,0 -6.20,0ZM469.01,173.08a3.1,3.1 0 1,0 6.20,0a3.1,3.1 0 1,0 -6.20,0ZM469.21,171.56a3.1,3.1 0 1,0 6.20,0a3.1,3.1 0 1,0 -6.20,0ZM469.01,170.04a3.1,3.1 0 1,0 6.20,0a3.1,3.1 0 1,0 -6.20,0ZM468.96,168.51a3.1,3.1 0 1,0 6.20,0a3.1,3.1 0 1,0 -6.20,0ZM468.98,166.99a3.1,3.1 0 1,0 6.20,0a3.1,3.1 0 1,0 -6.20,0ZM468.90,165.47a3.1,3.1 0 1,0 6.20,0a3.1,3.1 0 1,0 -6.20,0ZM468.89,163.94a3.1,3.1 0 1,0 6.20,0a3.1,3.1 0 1,0 -6.20,0ZM468.92,162.42a3.1,3.1 0 1,0 6.20,0a3.1,3.1 0 1,0 -6.20,0ZM469.01,160.90a3.1,3.1 0 1,0 6.20,0a3.1,3.1 0 1,0 -6.20,0ZM469.04,159.37a3.1,3.1 0 1,0 6.20,0a3.1,3.1 0 1,0 -6.20,0ZM469.23,157.85a3.1,3.1 0 1,0 6.20,0a3.1,3.1 0 1,0 -6.20,0ZM469.43,156.33a3.1,3.1 0 1,0 6.20,0a3.1,3.1 0 1,0 -6.20,0ZM469.31,154.80a3.1,3.1 0 1,0 6.20,0a3.1,3.1 0 1,0 -6.20,0ZM469.25,153.28a3.1,3.1 0 1,0 6.20,0a3.1,3.1 0 1,0 -6.20,0ZM469.65,151.76a3.1,3.1 0 1,0 6.20,0a3.1,3.1 0 1,0 -6.20,0ZM469.38,150.23a3.1,3.1 0 1,0 6.20,0a3.1,3.1 0 1,0 -6.20,0ZM469.32,148.71a3.1,3.1 0 1,0 6.20,0a3.1,3.1 0 1,0 -6.20,0ZM469.24,147.19a3.1,3.1 0 1,0 6.20,0a3.1,3.1 0 1,0 -6.20,0ZM469.55,145.66a3.1,3.1 0 1,0 6.20,0a3.1,3.1 0 1,0 -6.20,0ZM469.58,144.14a3.1,3.1 0 1,0 6.20,0a3.1,3.1 0 1,0 -6.20,0ZM469.61,142.62a3.1,3.1 0 1,0 6.20,0a3.1,3.1 0 1,0 -6.20,0ZM469.77,141.10a3.1,3.1 0 1,0 6.20,0a3.1,3.1 0 1,0 -6.20,0ZM469.77,139.57a3.1,3.1 0 1,0 6.20,0a3.1,3.1 0 1,0 -6.20,0ZM470.02,138.05a3.1,3.1 0 1,0 6.20,0a3.1,3.1 0 1,0 -6.20,0ZM469.94,136.53a3.1,3.1 0 1,0 6.20,0a3.1,3.1 0 1,0 -6.20,0ZM470.02,135.00a3.1,3.1 0 1,0 6.20,0a3.1,3.1 0 1,0 -6.20,0ZM470.20,133.48a3.1,3.1 0 1,0 6.20,0a3.1,3.1 0 1,0 -6.20,0ZM469.92,131.96a3.1,3.1 0 1,0 6.20,0a3.1,3.1 0 1,0 -6.20,0ZM470.11,130.43a3.1,3.1 0 1,0 6.20,0a3.1,3.1 0 1,0 -6.20,0ZM469.98,128.91a3.1,3.1 0 1,0 6.20,0a3.1,3.1 0 1,0 -6.20,0ZM470.18,127.39a3.1,3.1 0 1,0 6.20,0a3.1,3.1 0 1,0 -6.20,0ZM470.35,125.86a3.1,3.1 0 1,0 6.20,0a3.1,3.1 0 1,0 -6.20,0ZM470.51,124.34a3.1,3.1 0 1,0 6.20,0a3.1,3.1 0 1,0 -6.20,0ZM470.60,122.82a3.1,3.1 0 1,0 6.20,0a3.1,3.1 0 1,0 -6.20,0ZM470.27,121.29a3.1,3.1 0 1,0 6.20,0a3.1,3.1 0 1,0 -6.20,0ZM470.13,119.77a3.1,3.1 0 1,0 6.20,0a3.1,3.1 0 1,0 -6.20,0ZM470.45,118.25a3.1,3.1 0 1,0 6.20,0a3.1,3.1 0 1,0 -6.20,0ZM470.32,116.72a3.1,3.1 0 1,0 6.20,0a3.1,3.1 0 1,0 -6.20,0ZM470.11,115.20a3.1,3.1 0 1,0 6.20,0a3.1,3.1 0 1,0 -6.20,0ZM470.43,113.68a3.1,3.1 0 1,0 6.20,0a3.1,3.1 0 1,0 -6.20,0ZM470.58,112.16a3.1,3.1 0 1,0 6.20,0a3.1,3.1 0 1,0 -6.20,0ZM470.63,110.63a3.1,3.1 0 1,0 6.20,0a3.1,3.1 0 1,0 -6.20,0ZM470.42,109.11a3.1,3.1 0 1,0 6.20,0a3.1,3.1 0 1,0 -6.20,0ZM470.51,107.59a3.1,3.1 0 1,0 6.20,0a3.1,3.1 0 1,0 -6.20,0ZM470.50,106.06a3.1,3.1 0 1,0 6.20,0a3.1,3.1 0 1,0 -6.20,0ZM470.61,104.54a3.1,3.1 0 1,0 6.20,0a3.1,3.1 0 1,0 -6.20,0ZM470.79,103.02a3.1,3.1 0 1,0 6.20,0a3.1,3.1 0 1,0 -6.20,0ZM470.76,101.49a3.1,3.1 0 1,0 6.20,0a3.1,3.1 0 1,0 -6.20,0ZM470.77,99.97a3.1,3.1 0 1,0 6.20,0a3.1,3.1 0 1,0 -6.20,0ZM470.81,98.45a3.1,3.1 0 1,0 6.20,0a3.1,3.1 0 1,0 -6.20,0ZM470.99,96.92a3.1,3.1 0 1,0 6.20,0a3.1,3.1 0 1,0 -6.20,0ZM470.98,95.40a3.1,3.1 0 1,0 6.20,0a3.1,3.1 0 1,0 -6.20,0ZM471.07,93.88a3.1,3.1 0 1,0 6.20,0a3.1,3.1 0 1,0 -6.20,0ZM471.11,92.35a3.1,3.1 0 1,0 6.20,0a3.1,3.1 0 1,0 -6.20,0ZM471.29,90.83a3.1,3.1 0 1,0 6.20,0a3.1,3.1 0 1,0 -6.20,0ZM470.93,89.31a3.1,3.1 0 1,0 6.20,0a3.1,3.1 0 1,0 -6.20,0ZM477.63,88.16a3.1,3.1 0 1,0 6.20,0a3.1,3.1 0 1,0 -6.20,0ZM494.86,86.28a3.1,3.1 0 1,0 6.20,0a3.1,3.1 0 1,0 -6.20,0ZM513.26,85.07a3.1,3.1 0 1,0 6.20,0a3.1,3.1 0 1,0 -6.20,0ZM530.19,83.45a3.1,3.1 0 1,0 6.20,0a3.1,3.1 0 1,0 -6.20,0ZM537.20,81.90a3.1,3.1 0 1,0 6.20,0a3.1,3.1 0 1,0 -6.20,0ZM537.20,80.38a3.1,3.1 0 1,0 6.20,0a3.1,3.1 0 1,0 -6.20,0ZM537.20,78.86a3.1,3.1 0 1,0 6.20,0a3.1,3.1 0 1,0 -6.20,0ZM537.20,77.33a3.1,3.1 0 1,0 6.20,0a3.1,3.1 0 1,0 -6.20,0ZM537.20,75.81a3.1,3.1 0 1,0 6.20,0a3.1,3.1 0 1,0 -6.20,0ZM537.20,74.28a3.1,3.1 0 1,0 6.20,0a3.1,3.1 0 1,0 -6.20,0ZM537.20,72.76a3.1,3.1 0 1,0 6.20,0a3.1,3.1 0 1,0 -6.20,0ZM537.20,71.23a3.1,3.1 0 1,0 6.20,0a3.1,3.1 0 1,0 -6.20,0ZM537.20,69.71a3.1,3.1 0 1,0 6.20,0a3.1,3.1 0 1,0 -6.20,0ZM537.20,68.18a3.1,3.1 0 1,0 6.20,0a3.1,3.1 0 1,0 -6.20,0ZM537.20,66.66a3.1,3.1 0 1,0 6.20,0a3.1,3.1 0 1,0 -6.20,0ZM537.20,65.13a3.1,3.1 0 1,0 6.20,0a3.1,3.1 0 1,0 -6.20,0ZM537.20,63.61a3.1,3.1 0 1,0 6.20,0a3.1,3.1 0 1,0 -6.20,0ZM537.20,62.09a3.1,3.1 0 1,0 6.20,0a3.1,3.1 0 1,0 -6.20,0ZM537.20,60.56a3.1,3.1 0 1,0 6.20,0a3.1,3.1 0 1,0 -6.20,0ZM537.20,59.04a3.1,3.1 0 1,0 6.20,0a3.1,3.1 0 1,0 -6.20,0ZM537.20,57.51a3.1,3.1 0 1,0 6.20,0a3.1,3.1 0 1,0 -6.20,0ZM537.20,55.99a3.1,3.1 0 1,0 6.20,0a3.1,3.1 0 1,0 -6.20,0ZM537.20,54.46a3.1,3.1 0 1,0 6.20,0a3.1,3.1 0 1,0 -6.20,0ZM537.20,52.94a3.1,3.1 0 1,0 6.20,0a3.1,3.1 0 1,0 -6.20,0ZM537.20,51.41a3.1,3.1 0 1,0 6.20,0a3.1,3.1 0 1,0 -6.20,0ZM537.20,49.89a3.1,3.1 0 1,0 6.20,0a3.1,3.1 0 1,0 -6.20,0ZM537.20,48.36a3.1,3.1 0 1,0 6.20,0a3.1,3.1 0 1,0 -6.20,0ZM537.20,46.84a3.1,3.1 0 1,0 6.20,0a3.1,3.1 0 1,0 -6.20,0ZM537.20,45.31a3.1,3.1 0 1,0 6.20,0a3.1,3.1 0 1,0 -6.20,0ZM537.20,43.79a3.1,3.1 0 1,0 6.20,0a3.1,3.1 0 1,0 -6.20,0ZM537.20,42.27a3.1,3.1 0 1,0 6.20,0a3.1,3.1 0 1,0 -6.20,0Z" fill="none" stroke="#3a962a" stroke-width="1.2"/></g>
<g clip-path="url(#pc2)"><path d="M643.30,353.93L646.40,360.13L640.20,360.13ZM643.30,352.39L646.40,358.59L640.20,358.59ZM643.30,350.85L646.40,357.05L640.20,357.05ZM643.30,349.31L646.40,355.51L640.20,355.51ZM643.30,347.77L646.40,353.97L640.20,353.97ZM643.30,346.23L646.40,352.43L640.20,352.43ZM643.30,344.69L646.40,350.89L640.20,350.89ZM643.30,343.15L646.40,349.35L640.20,349.35ZM643.30,341.61L646.40,347.81L640.20,347.81ZM643.30,340.07L646.40,346.27L640.20,346.27ZM643.30,338.53L646.40,344.73L640.20,344.73ZM643.30,336.99L646.40,343.19L640.20,343.19ZM643.30,335.45L646.40,341.65L640.20,341.65ZM643.30,333.91L646.40,340.11L640.20,340.11ZM643.30,332.37L646.40,338.57L640.20,338.57ZM643.30,330.84L646.40,337.04L640.20,337.04ZM643.30,329.30L646.40,335.50L640.20,335.50ZM635.55,328.15L638.65,334.35L632.45,334.35ZM616.24,326.74L619.34,332.94L613.14,332.94ZM593.66,325.32L596.76,331.52L590.56,331.52ZM573.94,323.64L577.04,329.84L570.84,329.84ZM565.13,322.30L568.23,328.50L562.03,328.50ZM565.10,320.77L568.20,326.97L562.00,326.97ZM565.22,319.25L568.32,325.45L562.12,325.45ZM565.12,317.73L568.22,323.93L562.02,323.93ZM565.35,316.20L568.45,322.40L562.25,322.40ZM565.61,314.68L568.71,320.88L562.51,320.88ZM565.39,313.16L568.49,319.36L562.29,319.36ZM565.32,311.63L568.42,317.83L562.22,317.83ZM565.59,310.11L568.69,316.31L562.49,316.31ZM565.72,308.59L568.82,314.79L562.62,314.79ZM565.53,307.06L568.63,313.26L562.43,313.26ZM565.58,305.54L568.68,311.74L562.48,311.74ZM565.44,304.02L568.54,310.22L562.34,310.22ZM565.40,302.50L568.50,308.70L562.30,308.70ZM565.70,300.97L568.80,307.17L562.60,307.17ZM565.84,299.45L568.94,305.65L562.74,305.65ZM565.77,297.93L568.87,304.13L562.67,304.13ZM565.69,296.40L568.79,302.60L562.59,302.60ZM565.79,294.88L568.89,301.08L562.69,301.08ZM565.66,293.36L568.76,299.56L562.56,299.56ZM565.65,291.83L568.75,298.03L562.55,298.03ZM565.87,290.31L568.97,296.51L562.77,296.51ZM566.15,288.79L569.25,294.99L563.05,294.99ZM566.27,287.26L569.37,293.46L563.17,293.46ZM566.03,285.74L569.13,291.94L562.93,291.94ZM566.08,284.22L569.18,290.42L562.98,290.42ZM566.03,282.69L569.13,288.89L562.93,288.89ZM566.33,281.17L569.43,287.37L563.23,287.37ZM566.38,279.65L569.48,285.85L563.28,285.85ZM566.43,278.13L569.53,284.33L563.33,284.33ZM566.49,276.60L569.59,282.80L563.39,282.80ZM566.64,275.08L569.74,281.28L563.54,281.28ZM566.34,273.56L569.44,279.76L563.24,279.76ZM566.19,272.03L569.29,278.23L563.09,278.23ZM566.43,270.51L569.53,276.71L563.33,276.71ZM566.50,268.99L569.60,275.19L563.40,275.19ZM566.35,267.46L569.45,273.66L563.25,273.66ZM566.31,265.94L569.41,272.14L563.21,272.14ZM566.25,264.42L569.35,270.62L563.15,270.62ZM566.60,262.89L569.70,269.09L563.50,269.09ZM566.50,261.37L569.60,267.57L563.40,267.57ZM566.39,259.85L569.49,266.05L563.29,266.05ZM566.57,258.32L569.67,264.52L563.47,264.52ZM566.69,256.80L569.79,263.00L563.59,263.00ZM566.92,255.28L570.02,261.48L563.82,261.48ZM566.71,253.75L569.81,259.95L563.61,259.95ZM566.88,252.23L569.98,258.43L563.78,258.43ZM566.80,250.71L569.90,256.91L563.70,256.91ZM566.76,249.19L569.86,255.39L563.66,255.39ZM566.81,247.66L569.91,253.86L563.71,253.86ZM566.83,246.14L569.93,252.34L563.73,252.34ZM566.83,244.62L569.93,250.82L563.73,250.82ZM566.77,243.09L569.87,249.29L563.67,249.29ZM567.15,241.57L570.25,247.77L564.05,247.77ZM567.11,240.05L570.21,246.25L564.01,246.25ZM567.11,238.52L570.21,244.72L564.01,244.72ZM567.12,237.00L570.22,243.20L564.02,243.20ZM567.28,235.48L570.38,241.68L564.18,241.68ZM567.23,233.95L570.33,240.15L564.13,240.15ZM567.30,232.43L570.40,238.63L564.20,238.63ZM567.21,230.91L570.31,237.11L564.11,237.11ZM567.24,229.38L570.34,235.58L564.14,235.58ZM567.49,227.86L570.59,234.06L564.39,234.06ZM567.45,226.34L570.55,232.54L564.35,232.54ZM567.39,224.81L570.49,231.01L564.29,231.01ZM567.69,223.29L570.79,229.49L564.59,229.49ZM567.61,221.77L570.71,227.97L564.51,227.97ZM567.59,220.25L570.69,226.45L564.49,226.45ZM567.77,218.72L570.87,224.92L564.67,224.92ZM567.85,217.20L570.95,223.40L564.75,223.40ZM568.03,215.68L571.13,221.88L564.93,221.88ZM567.91,214.15L571.01,220.35L564.81,220.35ZM567.72,212.63L570.82,218.83L564.62,218.83ZM567.90,211.11L571.00,217.31L564.80,217.31ZM567.77,209.58L570.87,215.78L564.67,215.78ZM567.81,208.06L570.91,214.26L564.71,214.26ZM567.97,206.54L571.07,212.74L564.87,212.74ZM567.86,205.01L570.96,211.21L564.76,211.21ZM567.90,203.49L571.00,209.69L564.80,209.69ZM567.95,201.97L571.05,208.17L564.85,208.17ZM567.83,200.44L570.93,206.64L564.73,206.64ZM567.81,198.92L570.91,205.12L564.71,205.12ZM567.95,197.40L571.05,203.60L564.85,203.60ZM568.03,195.87L571.13,202.07L564.93,202.07ZM568.17,194.35L571.27,200.55L565.07,200.55ZM568.04,192.83L571.14,199.03L564.94,199.03ZM567.99,191.31L571.09,197.51L564.89,197.51ZM567.96,189.78L571.06,195.98L564.86,195.98ZM568.23,188.26L571.33,194.46L565.13,194.46ZM568.43,186.74L571.53,192.94L565.33,192.94ZM568.42,185.21L571.52,191.41L565.32,191.41ZM568.35,183.69L571.45,189.89L565.25,189.89ZM568.44,182.17L571.54,188.37L565.34,188.37ZM568.39,180.64L571.49,186.84L565.29,186.84ZM568.66,179.12L571.76,185.32L565.56,185.32ZM568.63,177.60L571.73,183.80L565.53,183.80ZM568.63,176.07L571.73,182.27L565.53,182.27ZM568.58,174.55L571.68,180.75L565.48,180.75ZM568.74,173.03L571.84,179.23L565.64,179.23ZM568.80,171.50L571.90,177.70L565.70,177.70ZM568.80,169.98L571.90,176.18L565.70,176.18ZM568.87,168.46L571.97,174.66L565.77,174.66ZM568.88,166.94L571.98,173.14L565.78,173.14ZM568.96,165.41L572.06,171.61L565.86,171.61ZM568.93,163.89L572.03,170.09L565.83,170.09ZM569.04,162.37L572.14,168.57L565.94,168.57ZM569.19,160.84L572.29,167.04L566.09,167.04ZM569.36,159.32L572.46,165.52L566.26,165.52ZM569.32,157.80L572.42,164.00L566.22,164.00ZM569.10,156.27L572.20,162.47L566.00,162.47ZM569.13,154.75L572.23,160.95L566.03,160.95ZM569.34,153.23L572.44,159.43L566.24,159.43ZM569.52,151.70L572.62,157.90L566.42,157.90ZM569.33,150.18L572.43,156.38L566.23,156.38ZM569.26,148.66L572.36,154.86L566.16,154.86ZM569.24,147.13L572.34,153.33L566.14,153.33ZM569.45,145.61L572.55,151.81L566.35,151.81ZM569.38,144.09L572.48,150.29L566.28,150.29ZM569.26,142.56L572.36,148.76L566.16,148.76ZM569.42,141.04L572.52,147.24L566.32,147.24ZM569.69,139.52L572.79,145.72L566.59,145.72ZM569.86,138.00L572.96,144.20L566.76,144.20ZM569.68,136.47L572.78,142.67L566.58,142.67ZM569.72,134.95L572.82,141.15L566.62,141.15ZM569.74,133.43L572.84,139.63L566.64,139.63ZM569.95,131.90L573.05,138.10L566.85,138.10ZM569.84,130.38L572.94,136.58L566.74,136.58ZM569.83,128.86L572.93,135.06L566.73,135.06ZM569.83,127.33L572.93,133.53L566.73,133.53ZM569.86,125.81L572.96,132.01L566.76,132.01ZM569.96,124.29L573.06,130.49L566.86,130.49ZM569.88,122.76L572.98,128.96L566.78,128.96ZM569.87,121.24L572.97,127.44L566.77,127.44ZM569.91,119.72L573.01,125.92L566.81,125.92ZM570.00,118.19L573.10,124.39L566.90,124.39ZM570.26,116.67L573.36,122.87L567.16,122.87ZM570.38,115.15L573.48,121.35L567.28,121.35ZM570.44,113.62L573.54,119.82L567.34,119.82ZM570.29,112.10L573.39,118.30L567.19,118.30ZM570.24,110.58L573.34,116.78L567.14,116.78ZM570.35,109.06L573.45,115.26L567.25,115.26ZM570.40,107.53L573.50,113.73L567.30,113.73ZM570.34,106.01L573.44,112.21L567.24,112.21ZM570.22,104.49L573.32,110.69L567.12,110.69ZM570.29,102.96L573.39,109.16L567.19,109.16ZM570.55,101.44L573.65,107.64L567.45,107.64ZM570.75,99.92L573.85,106.12L567.65,106.12ZM570.57,98.39L573.67,104.59L567.47,104.59ZM570.42,96.87L573.52,103.07L567.32,103.07ZM570.52,95.35L573.62,101.55L567.42,101.55ZM570.74,93.82L573.84,100.02L567.64,100.02ZM570.57,92.30L573.67,98.50L567.47,98.50ZM570.74,90.78L573.84,96.98L567.64,96.98ZM570.88,89.25L573.98,95.45L567.78,95.45ZM570.67,87.73L573.77,93.93L567.57,93.93ZM570.67,86.21L573.77,92.41L567.57,92.41ZM578.56,85.06L581.66,91.26L575.46,91.26ZM597.06,83.18L600.16,89.38L593.96,89.38ZM617.80,81.97L620.90,88.17L614.70,88.17ZM636.23,80.35L639.33,86.55L633.13,86.55ZM643.30,78.80L646.40,85.00L640.20,85.00ZM643.30,77.28L646.40,83.48L640.20,83.48ZM643.30,75.76L646.40,81.96L640.20,81.96ZM643.30,74.23L646.40,80.43L640.20,80.43ZM643.30,72.71L646.40,78.91L640.20,78.91ZM643.30,71.18L646.40,77.38L640.20,77.38ZM643.30,69.66L646.40,75.86L640.20,75.86ZM643.30,68.13L646.40,74.33L640.20,74.33ZM643.30,66.61L646.40,72.81L640.20,72.81ZM643.30,65.08L646.40,71.28L640.20,71.28ZM643.30,63.56L646.40,69.76L640.20,69.76ZM643.30,62.03L646.40,68.23L640.20,68.23ZM643.30,60.51L646.40,66.71L640.20,66.71ZM643.30,58.99L646.40,65.19L640.20,65.19ZM643.30,57.46L646.40,63.66L640.20,63.66ZM643.30,55.94L646.40,62.14L640.20,62.14ZM643.30,54.41L646.40,60.61L640.20,60.61ZM643.30,52.89L646.40,59.09L640.20,59.09ZM643.30,51.36L646.40,57.56L640.20,57.56ZM643.30,49.84L646.40,56.04L640.20,56.04ZM643.30,48.31L646.40,54.51L640.20,54.51ZM643.30,46.79L646.40,52.99L640.20,52.99ZM643.30,45.26L646.40,51.46L640.20,51.46ZM643.30,43.74L646.40,49.94L640.20,49.94ZM643.30,42.21L646.40,48.41L640.20,48.41ZM643.30,40.69L646.40,46.89L640.20,46.89ZM643.30,39.17L646.40,45.37L640.20,45.37Z" fill="none" stroke="#000" stroke-width="1.15"/></g>
<rect x="351.0" y="38.2" width="94.0" height="321.5" fill="none" stroke="#000" stroke-width="1.25"/>
<line x1="351.0" y1="293.90" x2="354.3" y2="293.90" stroke="#000" stroke-width="1"/>
<line x1="445.0" y1="293.90" x2="441.7" y2="293.90" stroke="#000" stroke-width="1"/>
<line x1="351.0" y1="226.60" x2="354.3" y2="226.60" stroke="#000" stroke-width="1"/>
<line x1="445.0" y1="226.60" x2="441.7" y2="226.60" stroke="#000" stroke-width="1"/>
<line x1="351.0" y1="159.30" x2="354.3" y2="159.30" stroke="#000" stroke-width="1"/>
<line x1="445.0" y1="159.30" x2="441.7" y2="159.30" stroke="#000" stroke-width="1"/>
<line x1="351.0" y1="92.00" x2="354.3" y2="92.00" stroke="#000" stroke-width="1"/>
<line x1="445.0" y1="92.00" x2="441.7" y2="92.00" stroke="#000" stroke-width="1"/>
<rect x="452.6" y="38.2" width="94.0" height="321.5" fill="none" stroke="#000" stroke-width="1.25"/>
<line x1="452.6" y1="293.90" x2="455.90000000000003" y2="293.90" stroke="#000" stroke-width="1"/>
<line x1="546.6" y1="293.90" x2="543.3000000000001" y2="293.90" stroke="#000" stroke-width="1"/>
<line x1="452.6" y1="226.60" x2="455.90000000000003" y2="226.60" stroke="#000" stroke-width="1"/>
<line x1="546.6" y1="226.60" x2="543.3000000000001" y2="226.60" stroke="#000" stroke-width="1"/>
<line x1="452.6" y1="159.30" x2="455.90000000000003" y2="159.30" stroke="#000" stroke-width="1"/>
<line x1="546.6" y1="159.30" x2="543.3000000000001" y2="159.30" stroke="#000" stroke-width="1"/>
<line x1="452.6" y1="92.00" x2="455.90000000000003" y2="92.00" stroke="#000" stroke-width="1"/>
<line x1="546.6" y1="92.00" x2="543.3000000000001" y2="92.00" stroke="#000" stroke-width="1"/>
<rect x="554.6" y="38.2" width="94.10000000000002" height="321.5" fill="none" stroke="#000" stroke-width="1.25"/>
<line x1="554.6" y1="293.90" x2="557.9" y2="293.90" stroke="#000" stroke-width="1"/>
<line x1="648.7" y1="293.90" x2="645.4000000000001" y2="293.90" stroke="#000" stroke-width="1"/>
<line x1="554.6" y1="226.60" x2="557.9" y2="226.60" stroke="#000" stroke-width="1"/>
<line x1="648.7" y1="226.60" x2="645.4000000000001" y2="226.60" stroke="#000" stroke-width="1"/>
<line x1="554.6" y1="159.30" x2="557.9" y2="159.30" stroke="#000" stroke-width="1"/>
<line x1="648.7" y1="159.30" x2="645.4000000000001" y2="159.30" stroke="#000" stroke-width="1"/>
<line x1="554.6" y1="92.00" x2="557.9" y2="92.00" stroke="#000" stroke-width="1"/>
<line x1="648.7" y1="92.00" x2="645.4000000000001" y2="92.00" stroke="#000" stroke-width="1"/>
<line x1="380.50" y1="359.7" x2="380.50" y2="356.4" stroke="#000" stroke-width="1"/>
<line x1="380.50" y1="38.2" x2="380.50" y2="41.5" stroke="#000" stroke-width="1"/>
<text x="372.71" y="372.20" font-size="12.40" font-weight="normal" font-style="normal" fill="#111" textLength="15.45" lengthAdjust="spacingAndGlyphs">20</text>
<line x1="439.10" y1="359.7" x2="439.10" y2="356.4" stroke="#000" stroke-width="1"/>
<line x1="439.10" y1="38.2" x2="439.10" y2="41.5" stroke="#000" stroke-width="1"/>
<text x="435.23" y="372.20" font-size="12.40" font-weight="normal" font-style="normal" fill="#111" textLength="7.72" lengthAdjust="spacingAndGlyphs">0</text>
<line x1="481.90" y1="359.7" x2="481.90" y2="356.4" stroke="#000" stroke-width="1"/>
<line x1="481.90" y1="38.2" x2="481.90" y2="41.5" stroke="#000" stroke-width="1"/>
<text x="474.11" y="372.20" font-size="12.40" font-weight="normal" font-style="normal" fill="#111" textLength="15.45" lengthAdjust="spacingAndGlyphs">20</text>
<line x1="540.30" y1="359.7" x2="540.30" y2="356.4" stroke="#000" stroke-width="1"/>
<line x1="540.30" y1="38.2" x2="540.30" y2="41.5" stroke="#000" stroke-width="1"/>
<text x="536.43" y="372.20" font-size="12.40" font-weight="normal" font-style="normal" fill="#111" textLength="7.72" lengthAdjust="spacingAndGlyphs">0</text>
<line x1="575.30" y1="359.7" x2="575.30" y2="356.4" stroke="#000" stroke-width="1"/>
<line x1="575.30" y1="38.2" x2="575.30" y2="41.5" stroke="#000" stroke-width="1"/>
<text x="567.57" y="372.20" font-size="12.40" font-weight="normal" font-style="normal" fill="#111" textLength="15.45" lengthAdjust="spacingAndGlyphs">50</text>
<line x1="643.30" y1="359.7" x2="643.30" y2="356.4" stroke="#000" stroke-width="1"/>
<line x1="643.30" y1="38.2" x2="643.30" y2="41.5" stroke="#000" stroke-width="1"/>
<text x="639.43" y="372.20" font-size="12.40" font-weight="normal" font-style="normal" fill="#111" textLength="7.72" lengthAdjust="spacingAndGlyphs">0</text>
<text x="651.75" y="298.40" font-size="12.40" font-weight="normal" font-style="normal" fill="#111" textLength="15.61" lengthAdjust="spacingAndGlyphs">10</text>
<text x="652.12" y="231.10" font-size="12.40" font-weight="normal" font-style="normal" fill="#111" textLength="15.23" lengthAdjust="spacingAndGlyphs">20</text>
<text x="652.29" y="163.80" font-size="12.40" font-weight="normal" font-style="normal" fill="#111" textLength="15.05" lengthAdjust="spacingAndGlyphs">30</text>
<text x="652.50" y="96.50" font-size="12.40" font-weight="normal" font-style="normal" fill="#111" textLength="14.83" lengthAdjust="spacingAndGlyphs">40</text>
<path d="M376.40,54.50h6.00v6.00h-6.00Z" fill="none" stroke="#2222ff" stroke-width="1.05"/>
<path d="M477.50,57.60a3.1,3.1 0 1,0 6.20,0a3.1,3.1 0 1,0 -6.20,0Z" fill="none" stroke="#3a962a" stroke-width="1.05"/>
<path d="M583.40,54.40L586.50,60.60L580.30,60.60Z" fill="none" stroke="#000" stroke-width="1.05"/>
<text x="406.13" y="62.70" font-size="13.80" font-weight="normal" font-style="normal" fill="#111" textLength="20.45" lengthAdjust="spacingAndGlyphs">Gd</text>
<text x="507.43" y="62.90" font-size="13.80" font-weight="normal" font-style="normal" fill="#111" textLength="19.70" lengthAdjust="spacingAndGlyphs">Co</text>
<text x="609.49" y="62.90" font-size="13.80" font-weight="normal" font-style="normal" fill="#111" textLength="17.17" lengthAdjust="spacingAndGlyphs">Fe</text>
<text x="437.12" y="387.90" font-size="14.50" font-weight="normal" font-style="normal" fill="#111" textLength="133.34" lengthAdjust="spacingAndGlyphs">Composition (at.%)</text>
<g transform="translate(681.0,251.6) rotate(-90)"><text x="-0.35" y="0.00" font-size="13.30" font-weight="normal" font-style="normal" fill="#111" textLength="104.96" lengthAdjust="spacingAndGlyphs">Thickness (nm)</text></g>
</svg></body></html>
